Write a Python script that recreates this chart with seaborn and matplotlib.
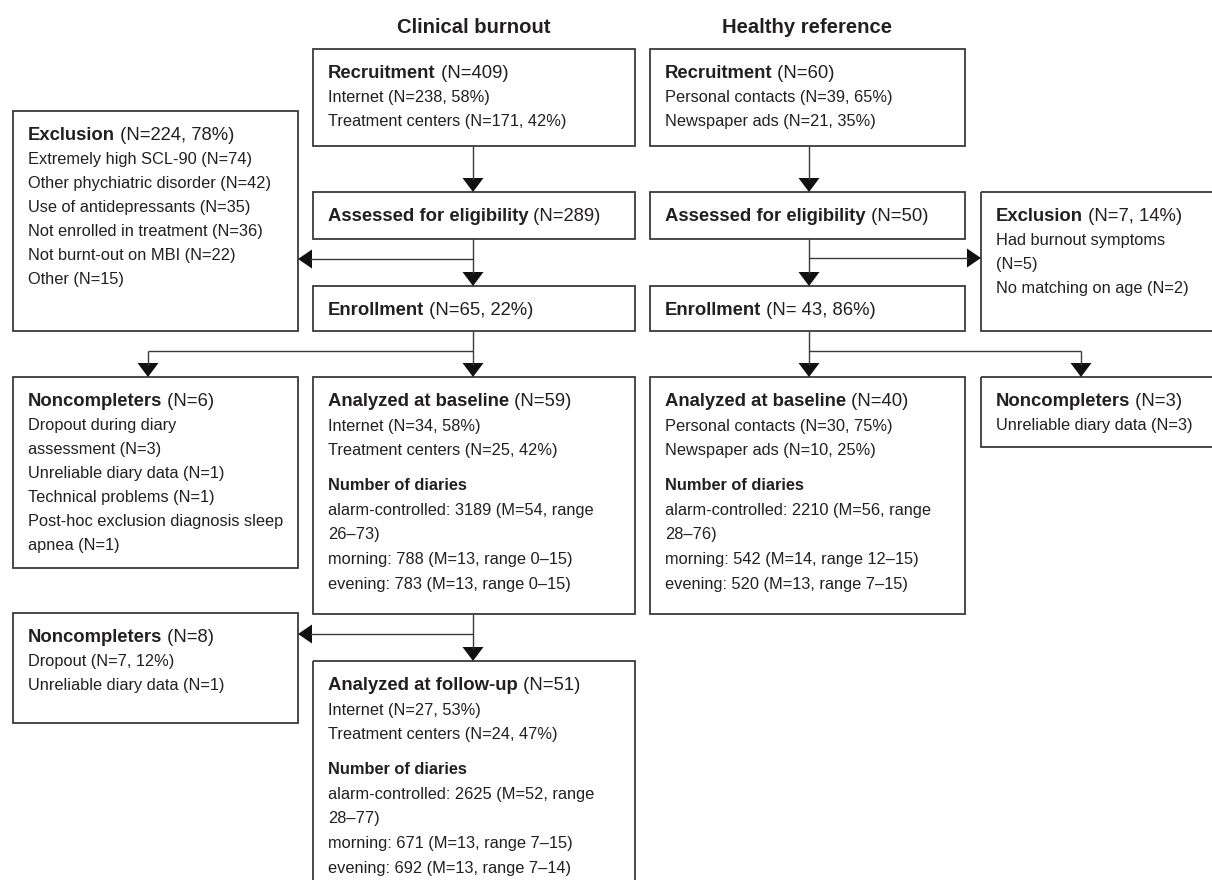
import matplotlib
matplotlib.use("Agg")
import matplotlib.pyplot as plt
from matplotlib.patches import Rectangle, Polygon
import seaborn as sns

# ---- text content of the flow chart ----
group_titles = ["Clinical burnout", "Healthy reference"]

rec_cb_head = ("Recruitment", " (N=409)")
rec_cb_lines = ["Internet (N=238, 58%)", "Treatment centers (N=171, 42%)"]

rec_hr_head = ("Recruitment", " (N=60)")
rec_hr_lines = ["Personal contacts (N=39, 65%)", "Newspaper ads (N=21, 35%)"]

exc_cb_head = ("Exclusion", " (N=224, 78%)")
exc_cb_lines = ["Extremely high SCL-90 (N=74)", "Other phychiatric disorder (N=42)",
                "Use of antidepressants (N=35)", "Not enrolled in treatment (N=36)",
                "Not burnt-out on MBI (N=22)", "Other (N=15)"]

ass_cb_head = ("Assessed for eligibility", " (N=289)")
ass_hr_head = ("Assessed for eligibility", " (N=50)")

exc_hr_head = ("Exclusion", " (N=7, 14%)")
exc_hr_lines = ["Had burnout symptoms", "(N=5)", "No matching on age (N=2)"]

enr_cb_head = ("Enrollment", " (N=65, 22%)")
enr_hr_head = ("Enrollment", " (N= 43, 86%)")

non_cb1_head = ("Noncompleters", " (N=6)")
non_cb1_lines = ["Dropout during diary", "assessment (N=3)", "Unreliable diary data (N=1)",
                 "Technical problems (N=1)", "Post-hoc exclusion diagnosis sleep", "apnea (N=1)"]

base_cb_head = ("Analyzed at baseline", " (N=59)")
base_cb_lines = ["Internet (N=34, 58%)", "Treatment centers (N=25, 42%)", "",
                 "#Number of diaries", "alarm-controlled: 3189 (M=54, range", "26\u201373)",
                 "morning: 788 (M=13, range 0\u201315)", "evening: 783 (M=13, range 0\u201315)"]

base_hr_head = ("Analyzed at baseline", " (N=40)")
base_hr_lines = ["Personal contacts (N=30, 75%)", "Newspaper ads (N=10, 25%)", "",
                 "#Number of diaries", "alarm-controlled: 2210 (M=56, range", "28\u201376)",
                 "morning: 542 (M=14, range 12\u201315)", "evening: 520 (M=13, range 7\u201315)"]

non_hr_head = ("Noncompleters", " (N=3)")
non_hr_lines = ["Unreliable diary data (N=3)"]

non_cb2_head = ("Noncompleters", " (N=8)")
non_cb2_lines = ["Dropout (N=7, 12%)", "Unreliable diary data (N=1)"]

fu_cb_head = ("Analyzed at follow-up", " (N=51)")
fu_cb_lines = ["Internet (N=27, 53%)", "Treatment centers (N=24, 47%)", "",
               "#Number of diaries", "alarm-controlled: 2625 (M=52, range", "28\u201377)",
               "morning: 671 (M=13, range 7\u201315)", "evening: 692 (M=13, range 7\u201314)"]

# ---- styling ----
sns.set_theme(style="white")
plt.rcParams["font.family"] = ["Liberation Sans", "DejaVu Sans"]

TXT = "#231f20"
EDGE = "#3a3a3a"
TITLE_SIZE = 14.6
HEAD_SIZE = 13.3
BODY_SIZE = 11.8

fig = plt.figure(figsize=(12.12, 8.8), dpi=100)
ax = fig.add_axes([0, 0, 1, 1])
ax.set_xlim(0, 1212)
ax.set_ylim(880, 0)
ax.axis("off")
sns.despine(ax=ax, left=True, bottom=True)


def draw_box(x0, y0, x1, y1, head, lines, step=24, gap=12):
    ax.add_patch(Rectangle((x0, y0), x1 - x0, y1 - y0, fill=False,
                           edgecolor=EDGE, linewidth=1.3))
    tx = x0 + 15
    y = y0 + 29
    t = ax.text(tx, y, head[0], fontsize=HEAD_SIZE, fontweight="bold",
                ha="left", va="baseline", color=TXT)
    ax.annotate(head[1], xy=(1, 0), xycoords=t, fontsize=HEAD_SIZE,
                ha="left", va="bottom", color=TXT)
    for ln in lines:
        if ln == "":
            y += gap
            continue
        y += step
        if ln.startswith("#"):
            ax.text(tx, y, ln[1:], fontsize=BODY_SIZE, fontweight="bold",
                    ha="left", va="baseline", color=TXT)
        else:
            ax.text(tx, y, ln, fontsize=BODY_SIZE, ha="left", va="baseline", color=TXT)


def line(xs, ys):
    ax.plot(xs, ys, color=EDGE, linewidth=1.0, solid_capstyle="butt")


def head_down(x, y):
    ax.add_patch(Polygon([(x - 10.5, y - 14), (x + 10.5, y - 14), (x, y)],
                         closed=True, color="#111111", linewidth=0))


def head_side(x, y, direction):
    ax.add_patch(Polygon([(x - direction * 14, y - 9.5), (x - direction * 14, y + 9.5), (x, y)],
                         closed=True, color="#111111", linewidth=0))


# column titles
ax.text(474, 33, group_titles[0], fontsize=TITLE_SIZE, fontweight="bold",
        ha="center", va="baseline", color=TXT)
ax.text(807, 33, group_titles[1], fontsize=TITLE_SIZE, fontweight="bold",
        ha="center", va="baseline", color=TXT)

# boxes
draw_box(313, 49, 635, 146, rec_cb_head, rec_cb_lines)
draw_box(650, 49, 965, 146, rec_hr_head, rec_hr_lines)
draw_box(13, 111, 298, 331, exc_cb_head, exc_cb_lines)
draw_box(313, 192, 635, 239, ass_cb_head, [])
draw_box(650, 192, 965, 239, ass_hr_head, [])
draw_box(981, 192, 1240, 331, exc_hr_head, exc_hr_lines)
draw_box(313, 286, 635, 331, enr_cb_head, [])
draw_box(650, 286, 965, 331, enr_hr_head, [])
draw_box(13, 377, 298, 568, non_cb1_head, non_cb1_lines)
draw_box(313, 377, 635, 614, base_cb_head, base_cb_lines, step=24.5, gap=11)
draw_box(650, 377, 965, 614, base_hr_head, base_hr_lines, step=24.5, gap=11)
draw_box(981, 377, 1240, 447, non_hr_head, non_hr_lines)
draw_box(13, 613, 298, 723, non_cb2_head, non_cb2_lines)
draw_box(313, 661, 635, 900, fu_cb_head, fu_cb_lines, step=24.5, gap=11)

# connectors: clinical burnout column
line([473, 473], [146, 180]); head_down(473, 192)
line([473, 473], [239, 274]); head_down(473, 286)
line([473, 310], [259, 259]); head_side(298, 259, -1)
line([473, 473], [331, 365]); head_down(473, 377)
line([148, 473], [351, 351]); line([148, 148], [351, 365]); head_down(148, 377)
line([473, 473], [614, 649]); head_down(473, 661)
line([473, 310], [634, 634]); head_side(298, 634, -1)

# connectors: healthy reference column
line([809, 809], [146, 180]); head_down(809, 192)
line([809, 809], [239, 274]); head_down(809, 286)
line([809, 969], [258, 258]); head_side(981, 258, 1)
line([809, 809], [331, 365]); head_down(809, 377)
line([809, 1081], [351, 351]); line([1081, 1081], [351, 365]); head_down(1081, 377)

fig.savefig("out.png", dpi=100)
plt.close(fig)
